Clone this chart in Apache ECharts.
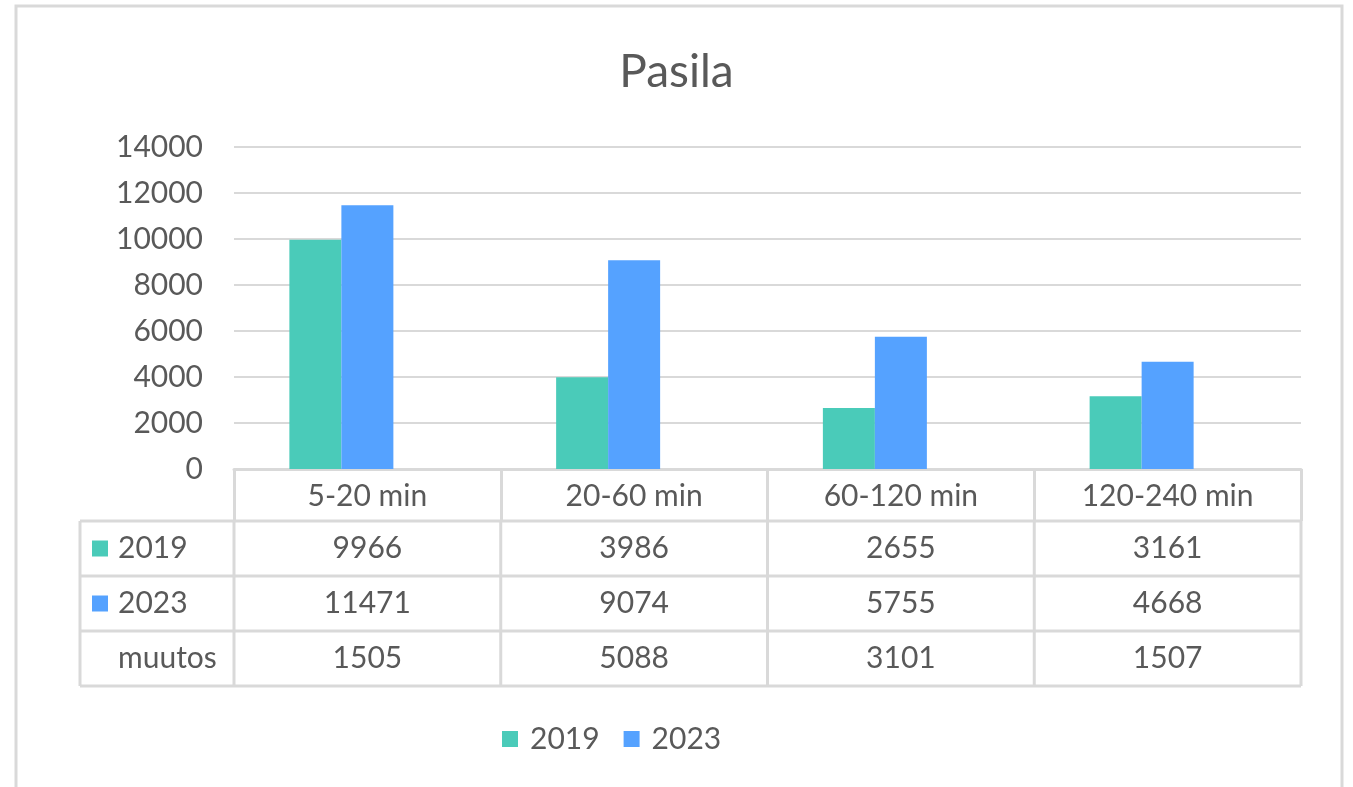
<!DOCTYPE html>
<html>
<head>
<meta charset="utf-8">
<title>Pasila</title>
<script src="https://cdn.jsdelivr.net/npm/echarts@6/dist/echarts.min.js"></script>
<style>
  html, body { margin: 0; padding: 0; background: #fff; }
  #chart { width: 1353px; height: 787px; }
</style>
</head>
<body>
<div id="chart"></div>
<script>
  // data
  const categories = ['5-20 min', '20-60 min', '60-120 min', '120-240 min'];
  const values2019 = [9966, 3986, 2655, 3161];
  const values2023 = [11471, 9074, 5755, 4668];
  const valuesMuutos = [1505, 5088, 3101, 1507];
  const yTicks = [0, 2000, 4000, 6000, 8000, 10000, 12000, 14000];

  const textColor = '#595959';
  const lineColor = '#d9d9d9';
  const fontFamily = 'Lato, "Open Sans", sans-serif';
  const fontSize = 30;
  const color2019 = '#4acbb9';
  const color2023 = '#55a2ff';

  let myChart = echarts.init(document.getElementById('chart'));

  let option = {
    animation: false,
    textStyle: { fontFamily: fontFamily },
    title: {
      text: 'Pasila',
      left: 'center',
      top: 44,
      textStyle: { color: textColor, fontSize: 46, fontWeight: 'normal', fontFamily: fontFamily }
    },
    legend: {
      data: ['2019', '2023'],
      left: 497,
      top: 719,
      icon: 'rect',
      itemWidth: 16,
      itemHeight: 16,
      itemGap: 24,
      textStyle: { color: textColor, fontSize: fontSize, fontFamily: fontFamily, padding: [0, 0, 0, 7] }
    },
    grid: {
      left: 234,
      right: 52,
      top: 147,
      bottom: 318
    },
    xAxis: {
      type: 'category',
      data: categories,
      axisLine: { lineStyle: { color: lineColor, width: 3 } },
      axisTick: { show: true, length: 52, interval: 0, lineStyle: { color: lineColor, width: 3 } },
      axisLabel: { color: textColor, fontSize: fontSize, margin: 12, interval: 0, fontFamily: fontFamily }
    },
    yAxis: {
      type: 'value',
      min: yTicks[0],
      max: yTicks[yTicks.length - 1],
      interval: 2000,
      axisLine: { show: false },
      axisTick: { show: false },
      splitLine: { lineStyle: { color: lineColor, width: 2 } },
      axisLabel: { color: textColor, fontSize: fontSize, margin: 31, fontFamily: fontFamily, formatter: v => String(v) }
    },
    series: [
      {
        name: '2019',
        type: 'bar',
        data: values2019,
        barWidth: 52,
        barGap: '0%',
        itemStyle: { color: color2019 }
      },
      {
        name: '2023',
        type: 'bar',
        data: values2023,
        barWidth: 52,
        barGap: '0%',
        itemStyle: { color: color2023 }
      },
      {
        // muutos has no visible bars, it only keeps its slot like in the original
        name: 'muutos',
        type: 'bar',
        data: valuesMuutos,
        barWidth: 52,
        barGap: '0%',
        itemStyle: { color: 'rgba(0,0,0,0)' }
      }
    ]
  };
  myChart.setOption(option);

  // data table under the x axis, placed from the axis geometry
  function buildTable() {
    let x0 = myChart.convertToPixel({ xAxisIndex: 0 }, 0);
    let x1 = myChart.convertToPixel({ xAxisIndex: 0 }, 1);
    let step = x1 - x0;
    let axisY = myChart.convertToPixel({ yAxisIndex: 0 }, 0);
    let leftEdge = x0 - step / 2;
    let rightEdge = leftEdge + step * categories.length;
    let tableLeft = 80;
    let rowTop = axisY + 52;
    let rowH = 55;
    let rows = [
      { name: '2019', values: values2019, color: color2019 },
      { name: '2023', values: values2023, color: color2023 },
      { name: 'muutos', values: valuesMuutos, color: null }
    ];
    let els = [];
    let line = (xa, ya, xb, yb) => ({
      type: 'line',
      shape: { x1: xa, y1: ya, x2: xb, y2: yb },
      style: { stroke: lineColor, lineWidth: 3 },
      silent: true
    });
    // horizontal lines
    for (let i = 0; i <= rows.length; i++) {
      els.push(line(tableLeft, rowTop + i * rowH, rightEdge, rowTop + i * rowH));
    }
    // vertical lines
    els.push(line(tableLeft, rowTop, tableLeft, rowTop + rows.length * rowH));
    for (let c = 0; c <= categories.length; c++) {
      let x = leftEdge + c * step;
      els.push(line(x, rowTop, x, rowTop + rows.length * rowH));
    }
    rows.forEach((row, r) => {
      let cy = rowTop + r * rowH + rowH / 2;
      if (row.color) {
        els.push({
          type: 'rect',
          shape: { x: 92, y: cy - 8, width: 16, height: 16 },
          style: { fill: row.color },
          silent: true
        });
      }
      els.push({
        type: 'text',
        x: 118,
        y: cy,
        style: { text: row.name, fill: textColor, font: fontSize + 'px ' + fontFamily, textVerticalAlign: 'middle', textAlign: 'left' },
        silent: true
      });
      row.values.forEach((v, c) => {
        els.push({
          type: 'text',
          x: leftEdge + (c + 0.5) * step,
          y: cy,
          style: { text: String(v), fill: textColor, font: fontSize + 'px ' + fontFamily, textVerticalAlign: 'middle', textAlign: 'center' },
          silent: true
        });
      });
    });
    // chart frame
    els.push({
      type: 'rect',
      shape: { x: 16, y: 6, width: 1326, height: 800 },
      style: { fill: 'none', stroke: lineColor, lineWidth: 3 },
      silent: true
    });
    myChart.setOption({ graphic: els });
  }
  buildTable();
</script>
</body>
</html>
